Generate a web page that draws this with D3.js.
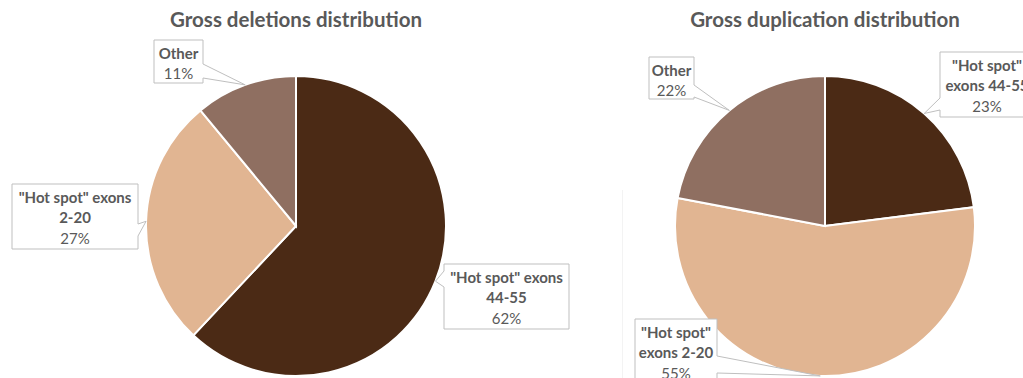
<!DOCTYPE html>
<html lang="en">
<head>
    <meta charset="UTF-8">
    <title>Gross deletions / duplications</title>
    <script src="https://d3js.org/d3.v7.min.js"></script>
    <style>
        body { margin: 0; background: #fff; }
        text { font-family: Lato, "Open Sans", sans-serif; fill: #595959; }
    </style>
</head>
<body>
<script>
    const width  = 1023;
    const height = 378;

    // data
    const categories = ['"Hot spot" exons 44-55', '"Hot spot" exons 2-20', 'Other'];
    const colors     = ['#4b2a15', '#e1b592', '#8f6f61'];

    const delTitle  = 'Gross deletions distribution';
    const delValues = [62, 27, 11];
    const delLines  = [['"Hot spot" exons', '44-55'], ['"Hot spot" exons', '2-20'], ['Other']];

    const dupTitle  = 'Gross duplication distribution';
    const dupValues = [23, 55, 22];
    const dupLines  = [['"Hot spot"', 'exons 44-55'], ['"Hot spot"', 'exons 2-20'], ['Other']];

    // label boxes: [x0, y0, x1, y1], side of pointer, pointer base range
    const delBoxes = [
        {box: [444, 264, 569, 329], side: 'left',  base: [271, 287]},
        {box: [12, 184, 138, 249],  side: 'right', base: [224, 236]},
        {box: [154, 40, 203, 83],   side: 'right', base: [64, 78]}
    ];
    const dupBoxes = [
        {box: [940, 52, 1034, 117], side: 'left',  base: [98, 110]},
        {box: [635, 319, 717, 392], side: 'right', base: [356, 373]},
        {box: [649, 57, 694, 99],   side: 'right', base: [85, 97]}
    ];

    const radius = 150;

    const svg = d3.select("body")
            .append("svg")
            .attr("width", width)
            .attr("height", height);

    // faint panel edge of the second chart
    svg.append("line")
        .attr("x1", 622.5).attr("x2", 622.5)
        .attr("y1", 190).attr("y2", height)
        .style("stroke", "#f3f3f3");

    function calloutPath(b, side, base, tip) {
        const [x0, y0, x1, y1] = b;
        const p = d3.path();
        p.moveTo(x0, y0);
        p.lineTo(x1, y0);
        if (side === 'right') {
            p.lineTo(x1, base[0]); p.lineTo(tip[0], tip[1]); p.lineTo(x1, base[1]);
        }
        p.lineTo(x1, y1);
        p.lineTo(x0, y1);
        if (side === 'left') {
            p.lineTo(x0, base[1]); p.lineTo(tip[0], tip[1]); p.lineTo(x0, base[0]);
        }
        p.closePath();
        return p.toString();
    }

    function drawPie(cx, cy, title, values, lines, boxes) {
        const g = svg.append("g")
                     .attr("transform", "translate(" + [cx, cy] + ")");

        const pie = d3.pie().sort(null).value(d => d);
        const arcs = pie(values);
        const arc = d3.arc().innerRadius(0).outerRadius(radius);

        g.selectAll("path.slice")
            .data(arcs)
            .enter().append("path")
            .attr("class", "slice")
            .attr("d", arc)
            .style("fill", (d, i) => colors[i])
            .style("stroke", "#fff")
            .style("stroke-width", 2);

        svg.append("text")
            .attr("x", cx)
            .attr("y", 27)
            .attr("text-anchor", "middle")
            .style("font-size", "20.5px")
            .style("font-weight", "bold")
            .text(title);

        arcs.forEach((d, i) => {
            const mid = (d.startAngle + d.endAngle) / 2;
            const tip = [cx + radius * Math.sin(mid), cy - radius * Math.cos(mid)];
            const bx = boxes[i];
            svg.append("path")
                .attr("d", calloutPath(bx.box, bx.side, bx.base, tip))
                .style("fill", "#fff")
                .style("stroke", "#bfbfbf")
                .style("stroke-width", 1);

            const tx = (bx.box[0] + bx.box[2]) / 2;
            const rows = lines[i].concat([values[i] + "%"]);
            const t = svg.append("text")
                .attr("text-anchor", "middle")
                .style("font-size", "15px");
            rows.forEach((r, j) => {
                t.append("tspan")
                    .attr("x", tx)
                    .attr("y", bx.box[1] + 18.5 + j * 20.5)
                    .style("font-weight", j < rows.length - 1 ? "bold" : "normal")
                    .text(r);
            });
        });
    }

    drawPie(296, 226, delTitle, delValues, delLines, delBoxes);
    drawPie(825, 226, dupTitle, dupValues, dupLines, dupBoxes);
</script>
</body>
</html>
